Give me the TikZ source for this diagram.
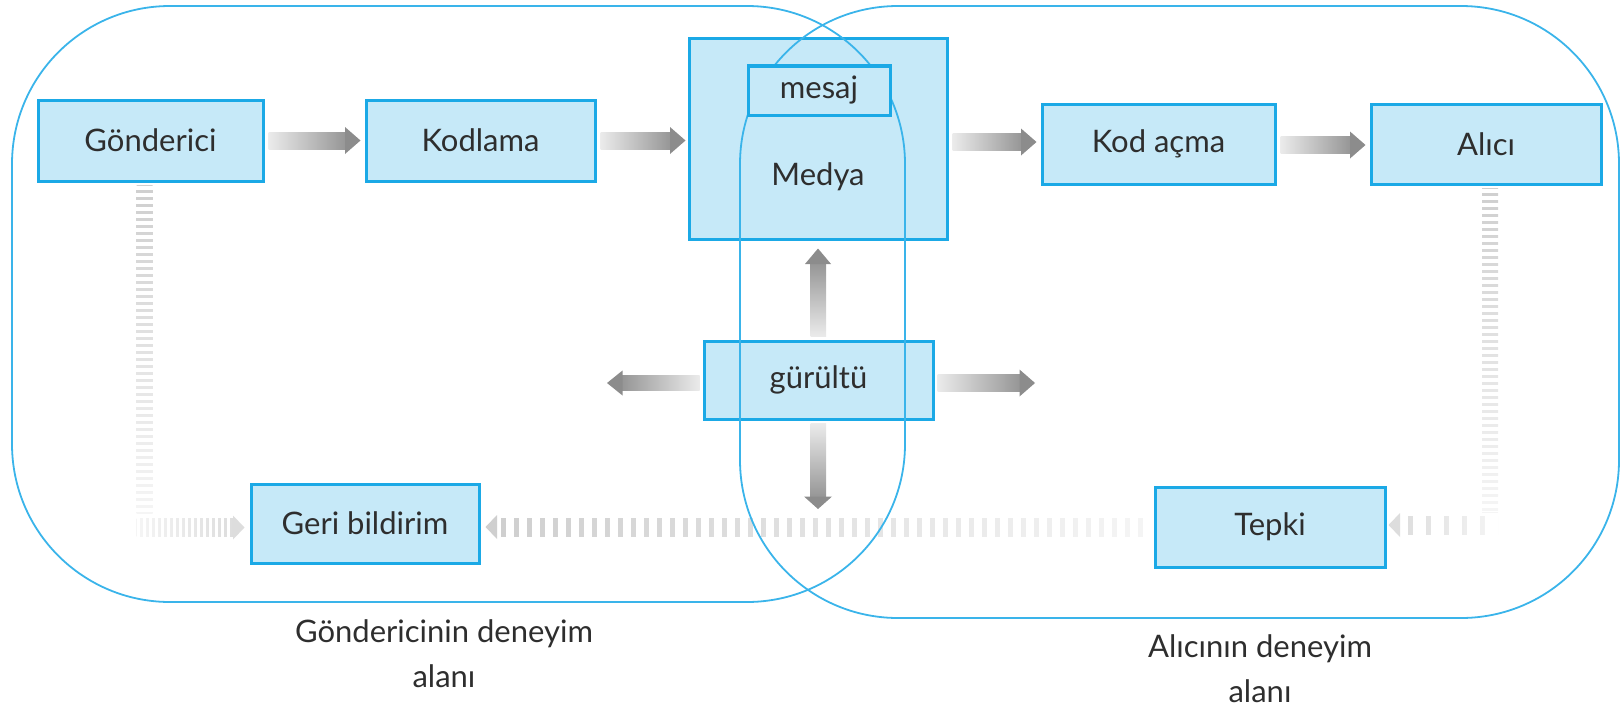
\documentclass[tikz,border=0pt]{standalone}
\usepackage{fontspec}
\setmainfont{Lato}
\usetikzlibrary{calc}
\definecolor{boxfill}{HTML}{C6E9F8}
\definecolor{boxline}{HTML}{1BA9E6}
\definecolor{regline}{HTML}{3AB4EA}
\definecolor{gL}{HTML}{EBEBEB}
\definecolor{gD}{HTML}{969696}
\definecolor{gH}{HTML}{8C8C8C}
\definecolor{txtc}{HTML}{2E2E2E}
\definecolor{fbDark}{HTML}{CFCFCF}
\definecolor{fbMid}{HTML}{DDDDDD}
\definecolor{fbLight}{HTML}{F5F5F5}

% gradient arrows: #1 tail point, #2 tip point
\newcommand\arrR[2]{%
  \shade[left color=gL, right color=gD] ($(#1)+(0,-8.5)$) rectangle ($(#2)+(-15,8.5)$);
  \fill[gH] ($(#2)+(-15.5,-13.5)$) -- (#2) -- ($(#2)+(-15.5,13.5)$) -- cycle;}
\newcommand\arrL[2]{%
  \shade[left color=gD, right color=gL] ($(#1)+(0,-7.5)$) rectangle ($(#2)+(15,7.5)$);
  \fill[gH] ($(#2)+(15.5,-12.5)$) -- (#2) -- ($(#2)+(15.5,12.5)$) -- cycle;}
\newcommand\arrU[2]{%
  \shade[top color=gD, bottom color=gL] ($(#1)+(-8,0)$) rectangle ($(#2)+(8,15)$);
  \fill[gH] ($(#2)+(-13,15.5)$) -- (#2) -- ($(#2)+(13,15.5)$) -- cycle;}
\newcommand\arrD[2]{%
  \shade[top color=gL, bottom color=gD] ($(#1)+(-8,0)$) rectangle ($(#2)+(8,-12)$);
  \fill[gH] ($(#2)+(-14,-12.5)$) -- (#2) -- ($(#2)+(14,-12.5)$) -- cycle;}

% striped feedback lines
% vertical: #1 top, #2 bottom, #3 top colour, #4 bottom colour
\newcommand\fbV[4]{%
  \shade[top color=#3, bottom color=#4] ($(#1)+(-8,0)$) rectangle ($(#2)+(8,0)$);
  \draw[white, line width=18pt, dash pattern=on 4pt off 3pt] (#1) -- (#2);}
% horizontal towards right: #1 tail, #2 tip, #3 tail colour, #4 head colour, #5 white dash, #6 grey dash
\newcommand\fbR[6]{%
  \shade[left color=#3, right color=#4] ($(#1)+(0,-9)$) rectangle ($(#2)+(-11,9)$);
  \draw[white, line width=20pt, dash pattern=on #5pt off #6pt] (#1) -- ($(#2)+(-11,0)$);
  \fill[#4] ($(#2)+(-11.5,-12)$) -- (#2) -- ($(#2)+(-11.5,12)$) -- cycle;}
% horizontal towards left
\newcommand\fbL[6]{%
  \shade[left color=#4, right color=#3] ($(#1)+(0,-9)$) rectangle ($(#2)+(11,9)$);
  \draw[white, line width=20pt, dash pattern=on #5pt off #6pt] (#1) -- ($(#2)+(11,0)$);
  \fill[#4] ($(#2)+(11.5,-12)$) -- (#2) -- ($(#2)+(11.5,12)$) -- cycle;}

\begin{document}
\begin{tikzpicture}[x=1pt,y=-1pt,
  box/.style={draw=boxline, fill=boxfill, line width=3pt, rectangle, inner sep=0pt,
    font=\fontsize{31}{36}\selectfont, text=txtc},
  lbl/.style={font=\fontsize{31}{45}\selectfont, text=txtc, align=center, inner sep=0pt, anchor=base},
  region/.style={draw=regline, line width=1.8pt, rounded corners=158pt}]
\useasboundingbox (0,0) rectangle (1621,709);

% boxes of the chain
\node[box, minimum width=225pt, minimum height=81pt] (gond) at (150.5,140.5) {Gönderici};
\node[box, minimum width=229pt, minimum height=81pt] (kod) at (480.5,140.5) {Kodlama};
\node[box, minimum width=258pt, minimum height=200pt] (medya) at (818,139) {};
\node[font=\fontsize{31}{36}\selectfont, text=txtc, inner sep=0pt] (medyat) at (818,177) {Medya};
\node[box, minimum width=233pt, minimum height=80pt] (kodac) at (1158.5,144) {Kod açma};
\node[box, minimum width=230pt, minimum height=80pt] (alici) at (1486,144) {Alıcı};
\node[box, minimum width=229pt, minimum height=78pt] (gur) at (818.5,380) {gürültü};
\node[box, minimum width=228pt, minimum height=79pt] (geri) at (365,523.5) {Geri bildirim};
\node[box, minimum width=230pt, minimum height=80pt] (tepki) at (1270,527) {Tepki};

% main arrows
\coordinate (a1s) at ($(gond.east)+(4,0)$);  \coordinate (a1e) at ($(kod.west |- gond.east)+(-4,0)$);
\arrR{a1s}{a1e}
\coordinate (a2s) at ($(kod.east)+(4,0)$);   \coordinate (a2e) at ($(medya.west |- kod.east)+(-2,0)$);
\arrR{a2s}{a2e}
\coordinate (a3s) at ($(medya.east)+(4,3)$); \coordinate (a3e) at ($(kodac.west |- a3s)+(-4,0)$);
\arrR{a3s}{a3e}
\coordinate (a4s) at ($(kodac.east)+(4,1)$); \coordinate (a4e) at ($(alici.west |- a4s)+(-4,0)$);
\arrR{a4s}{a4e}

% noise arrows
\coordinate (nU1) at ($(gur.north)+(0,-3)$);  \coordinate (nU2) at ($(medya.south)+(0,8)$);
\arrU{nU1}{nU2}
\coordinate (nD1) at ($(gur.south)+(0,3)$);   \coordinate (nD) at (818,509);
\arrD{nD1}{nD}
\coordinate (nL1) at ($(gur.west)+(-3,3)$);   \coordinate (nL) at (607,383);
\arrL{nL1}{nL}
\coordinate (nR1) at ($(gur.east)+(3,3)$);    \coordinate (nR) at (1035,383);
\arrR{nR1}{nR}

% feedback lines
\coordinate (f1t) at ($(gond.south)+(-6,3)$);
\coordinate (f1c) at ($(f1t |- geri.west)+(0,4)$);
\coordinate (f1b) at ($(f1c)+(0,-14)$);
\fbV{f1t}{f1b}{fbDark}{fbLight}
\coordinate (f1e) at ($(geri.west |- f1c)+(-5,0)$);
\fbR{$(f1c)+(-8,0)$}{f1e}{fbLight}{fbMid}{3}{3}

\coordinate (f2t) at ($(alici.south)+(4,3)$);
\coordinate (f2c) at ($(f2t |- tepki.east)+(0,-2)$);
\coordinate (f2b) at ($(f2c)+(0,-13)$);
\fbV{f2t}{f2b}{fbDark}{fbLight}
\coordinate (f2e) at ($(tepki.east |- f2c)+(2,0)$);
\fbL{$(f2c)+(8,0)$}{f2e}{fbLight}{fbMid}{13}{5}

\coordinate (f3s) at ($(tepki.west)+(-3,0)$);
\coordinate (f3e) at ($(geri.east |- f3s)+(5,0)$);
\fbL{f3s}{f3e}{fbLight}{fbDark}{8}{5}

% fields of experience
\draw[region] (12,6) rectangle (905,602);
\draw[region] (740,6) rectangle (1619,618);

% message box on top
\node[box, minimum width=142pt, minimum height=49pt] (mesaj) at (819,90.5) {mesaj};

% field labels (base = baseline of last line)
\node[lbl] (lsend) at (444,687) {Göndericinin deneyim\\alanı};
\node[lbl] (lrecv) at (1260,702) {Alıcının deneyim\\alanı};
\end{tikzpicture}
\end{document}
